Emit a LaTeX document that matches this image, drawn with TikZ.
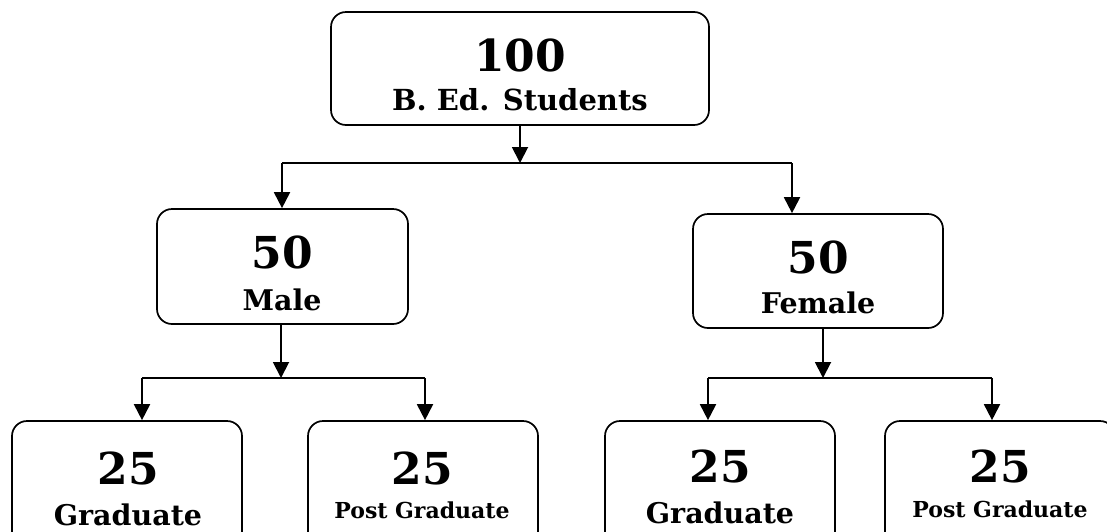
\documentclass[tikz,border=0pt]{standalone}
\usepackage{fontspec}
\setmainfont{DejaVu Serif}
\usetikzlibrary{arrows.meta}
\tikzset{
  box/.style={draw, line width=1.7pt, rounded corners=15pt, inner sep=0pt},
  num/.style={font=\bfseries\fontsize{44}{46}\selectfont, inner sep=0pt},
  lab/.style={font=\bfseries\fontsize{28.5}{30}\selectfont, inner sep=0pt},
  slab/.style={font=\bfseries\fontsize{22}{24}\selectfont, inner sep=0pt},
  conn/.style={line width=1.9pt},
  arr/.style={line width=1.9pt, -{Triangle[length=16pt,width=16pt]}}
}
\begin{document}
\begin{tikzpicture}[x=1pt,y=-1pt]
\useasboundingbox (0,0) rectangle (1107,531);
\clip (0,0) rectangle (1107,531);
% boxes
\node[box, minimum width=378pt, minimum height=113pt] (top) at (520,68.5) {};
\node[box, minimum width=251pt, minimum height=115pt] (male) at (282.5,266.5) {};
\node[box, minimum width=250pt, minimum height=114pt] (fem) at (818,271) {};
\node[box, minimum width=230pt, minimum height=140pt] (g1) at (127,491) {};
\node[box, minimum width=230pt, minimum height=140pt] (p1) at (423,491) {};
\node[box, minimum width=230pt, minimum height=140pt] (g2) at (720,491) {};
\node[box, minimum width=230pt, minimum height=140pt] (p2) at (1000,491) {};
% texts
\node[num] (topn) at (520,55) {100};
\node[lab, font=\bfseries\fontsize{29}{30}\selectfont] (topl) at (520,100) {B. Ed. Students};
\node[num] (malen) at (282,252.5) {50};
\node[lab] (malel) at (282,299.5) {Male};
\node[num] (femn) at (818,257.5) {50};
\node[lab] (feml) at (818,303) {Female};
\node[num] (g1n) at (128,468) {25};
\node[lab] (g1l) at (128,515) {Graduate};
\node[num] (p1n) at (422,468) {25};
\node[slab] (p1l) at (422,510) {Post Graduate};
\node[num] (g2n) at (720,466.5) {25};
\node[lab] (g2l) at (720,512.5) {Graduate};
\node[num] (p2n) at (1000,466.5) {25};
\node[slab] (p2l) at (1000,509) {Post Graduate};
% junction coordinates
\coordinate (j1) at (520,163);
\coordinate (j1l) at (282,163);
\coordinate (j1r) at (792,163);
\coordinate (mb) at (281,324);
\coordinate (j2) at (281,378);
\coordinate (j2l) at (142,378);
\coordinate (j2r) at (425,378);
\coordinate (fb) at (823,328);
\coordinate (j3) at (823,378);
\coordinate (j3l) at (708,378);
\coordinate (j3r) at (992,378);
% connectors
\draw[arr] (top.south) -- (j1);
\draw[conn] (j1l) -- (j1r);
\draw[arr] (j1l) -- (j1l |- male.north);
\draw[arr] (j1r) -- (j1r |- fem.north);
\draw[arr] (mb) -- (j2);
\draw[conn] (j2l) -- (j2r);
\draw[arr] (j2l) -- (j2l |- g1.north);
\draw[arr] (j2r) -- (j2r |- p1.north);
\draw[arr] (fb) -- (j3);
\draw[conn] (j3l) -- (j3r);
\draw[arr] (j3l) -- (j3l |- g2.north);
\draw[arr] (j3r) -- (j3r |- p2.north);
\end{tikzpicture}
\end{document}
